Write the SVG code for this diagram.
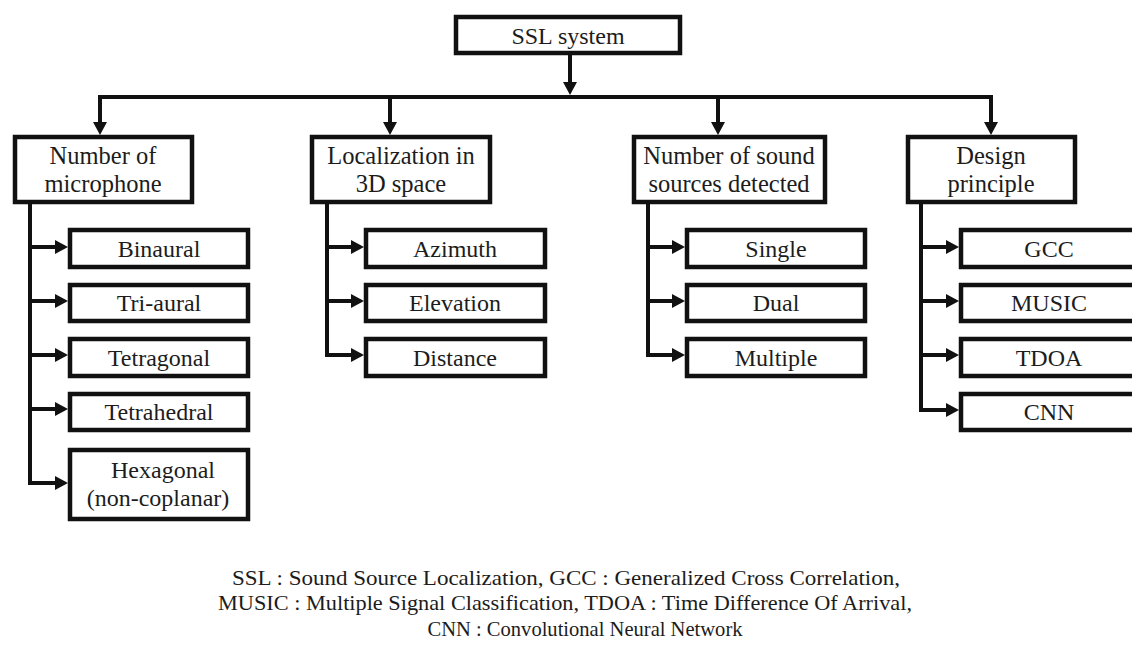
<svg xmlns="http://www.w3.org/2000/svg" width="1132" height="645" viewBox="0 0 1132 645">
  <defs>
    <marker id="ah" viewBox="0 0 13 14" refX="3" refY="7" markerWidth="13" markerHeight="14" markerUnits="userSpaceOnUse" orient="auto">
      <path d="M0,0 L13,7 L0,14 z" fill="#111"/>
    </marker>
    <style>
      .box { fill: #fff; stroke: #111; stroke-width: 4.5; }
      .ln { fill: none; stroke: #111; stroke-width: 4; stroke-linejoin: miter; }
      .arr { marker-end: url(#ah); }
      .lbl { fill: #1c1c1c; text-anchor: middle; }
      .t1 { font-size: 24.5px; }
      .t2 { font-size: 24px; }
      .note { font-size: 21px; }
    </style>
  </defs>
  <rect width="1132" height="645" fill="#fff"/>

  <!-- connectors -->
  <g id="connectors">
    <!-- root to bus -->
    <path class="ln arr" d="M570,55 V85"/>
    <!-- bus -->
    <path class="ln" d="M98,97 H993"/>
    <path class="ln arr" d="M100,97 V125"/>
    <path class="ln arr" d="M390,97 V125"/>
    <path class="ln arr" d="M718,97 V125"/>
    <path class="ln arr" d="M991,97 V125"/>

    <!-- microphone branch -->
    <path class="ln" d="M30,204 V485"/>
    <path class="ln arr" d="M30,247 H58"/>
    <path class="ln arr" d="M30,301 H58"/>
    <path class="ln arr" d="M30,355 H58"/>
    <path class="ln arr" d="M30,409 H58"/>
    <path class="ln arr" d="M28,483 H58"/>

    <!-- 3D space branch -->
    <path class="ln" d="M327,204 V357"/>
    <path class="ln arr" d="M327,247 H354"/>
    <path class="ln arr" d="M327,301 H354"/>
    <path class="ln arr" d="M325,355 H354"/>

    <!-- sound sources branch -->
    <path class="ln" d="M648,204 V357"/>
    <path class="ln arr" d="M648,247 H675"/>
    <path class="ln arr" d="M648,301 H675"/>
    <path class="ln arr" d="M646,355 H675"/>

    <!-- design principle branch -->
    <path class="ln" d="M921,204 V412"/>
    <path class="ln arr" d="M921,247 H949"/>
    <path class="ln arr" d="M921,301 H949"/>
    <path class="ln arr" d="M921,355 H949"/>
    <path class="ln arr" d="M919,410 H949"/>
  </g>

  <g font-family="Liberation Serif, DejaVu Serif, serif">
  <!-- root -->
  <g id="root">
    <rect class="box" x="456" y="17" width="224" height="36"/>
    <text class="lbl t2" x="568" y="44">SSL system</text>
  </g>

  <!-- level 1 -->
  <g id="mic">
    <rect class="box" x="15" y="137" width="177" height="65"/>
    <text class="lbl t1" x="103" y="164">Number of</text>
    <text class="lbl t1" x="103" y="192">microphone</text>
  </g>
  <g id="space">
    <rect class="box" x="312" y="137" width="178" height="65"/>
    <text class="lbl t1" x="401" y="164">Localization in</text>
    <text class="lbl t1" x="401" y="192">3D space</text>
  </g>
  <g id="sources">
    <rect class="box" x="634" y="137" width="191" height="65"/>
    <text class="lbl t1" x="729" y="164">Number of sound</text>
    <text class="lbl t1" x="729" y="192">sources detected</text>
  </g>
  <g id="design">
    <rect class="box" x="908" y="137" width="167" height="65"/>
    <text class="lbl t1" x="991" y="164">Design</text>
    <text class="lbl t1" x="991" y="192">principle</text>
  </g>

  <!-- microphone arrangements -->
  <g id="binaural">
    <rect class="box" x="70" y="230" width="178" height="37"/>
    <text class="lbl t2" x="159" y="257">Binaural</text>
  </g>
  <g id="triaural">
    <rect class="box" x="70" y="285" width="178" height="36"/>
    <text class="lbl t2" x="159" y="311">Tri-aural</text>
  </g>
  <g id="tetragonal">
    <rect class="box" x="70" y="339" width="178" height="37"/>
    <text class="lbl t2" x="159" y="366">Tetragonal</text>
  </g>
  <g id="tetrahedral">
    <rect class="box" x="70" y="394" width="178" height="36"/>
    <text class="lbl t2" x="159" y="420">Tetrahedral</text>
  </g>
  <g id="hexagonal">
    <rect class="box" x="70" y="450" width="178" height="69"/>
    <text class="lbl t2" x="163" y="478">Hexagonal</text>
    <text class="lbl t2" x="158" y="506">(non-coplanar)</text>
  </g>

  <!-- localization dimensions -->
  <g id="azimuth">
    <rect class="box" x="366" y="230" width="179" height="37"/>
    <text class="lbl t2" x="455" y="257">Azimuth</text>
  </g>
  <g id="elevation">
    <rect class="box" x="366" y="285" width="179" height="36"/>
    <text class="lbl t2" x="455" y="311">Elevation</text>
  </g>
  <g id="distance">
    <rect class="box" x="366" y="339" width="179" height="37"/>
    <text class="lbl t2" x="455" y="366">Distance</text>
  </g>

  <!-- number of sources -->
  <g id="single">
    <rect class="box" x="687" y="230" width="178" height="37"/>
    <text class="lbl t2" x="776" y="257">Single</text>
  </g>
  <g id="dual">
    <rect class="box" x="687" y="285" width="178" height="36"/>
    <text class="lbl t2" x="776" y="311">Dual</text>
  </g>
  <g id="multiple">
    <rect class="box" x="687" y="339" width="178" height="37"/>
    <text class="lbl t2" x="776" y="366">Multiple</text>
  </g>

  <!-- design principles -->
  <g id="gcc">
    <rect class="box" x="961" y="230" width="179" height="37"/>
    <text class="lbl t2" x="1049" y="257">GCC</text>
  </g>
  <g id="music">
    <rect class="box" x="961" y="285" width="179" height="36"/>
    <text class="lbl t2" x="1049" y="311">MUSIC</text>
  </g>
  <g id="tdoa">
    <rect class="box" x="961" y="339" width="179" height="37"/>
    <text class="lbl t2" x="1049" y="366">TDOA</text>
  </g>
  <g id="cnn">
    <rect class="box" x="961" y="394" width="179" height="36"/>
    <text class="lbl t2" x="1049" y="420">CNN</text>
  </g>

  <!-- abbreviations -->
  <g id="legend">
    <text class="lbl note" x="566" y="585" textLength="668" lengthAdjust="spacingAndGlyphs">SSL : Sound Source Localization, GCC : Generalized  Cross Correlation,</text>
    <text class="lbl note" x="565" y="610" textLength="694" lengthAdjust="spacingAndGlyphs">MUSIC : Multiple Signal Classification,  TDOA : Time Difference Of Arrival,</text>
    <text class="lbl note" x="585" y="636" textLength="315" lengthAdjust="spacingAndGlyphs">CNN : Convolutional Neural Network</text>
  </g>
  </g>
</svg>
